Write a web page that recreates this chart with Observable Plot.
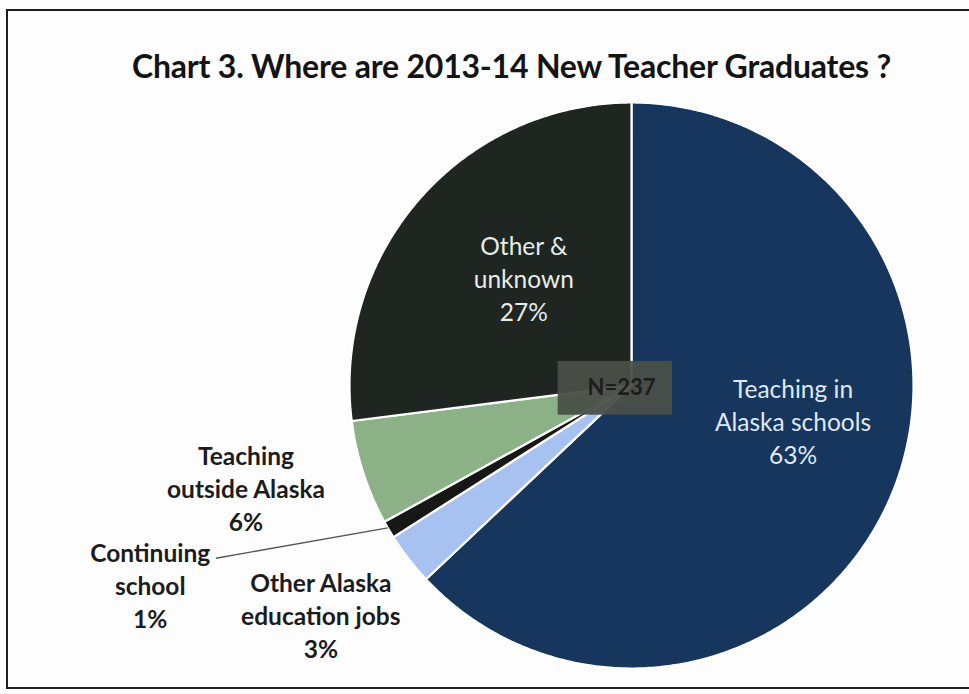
<!DOCTYPE html>
<html>
<head>
<meta charset="utf-8">
<script src="https://cdn.jsdelivr.net/npm/d3@7"></script>
<script src="https://cdn.jsdelivr.net/npm/@observablehq/plot@0.6"></script>
<style>
  body { margin: 0; background: #ffffff; }
  #wrap { position: relative; width: 969px; height: 694px; overflow: hidden; background: #fdfdfd; }
  #frame { position: absolute; left: 6px; top: 9px; width: 990px; height: 680px; border: 2px solid #1e1e1e; box-sizing: border-box; }
  #title { position: absolute; left: 0; top: 50px; width: 1023px; text-align: center; line-height: 32px;
           font-family: Lato, "Open Sans", sans-serif; font-weight: bold; font-size: 32px; color: #141414; letter-spacing: -0.2px; }
  #chart { position: absolute; left: 0; top: 0; }
</style>
</head>
<body>
<div id="wrap">
  <div id="frame"></div>
  <div id="chart"></div>
  <div id="title">Chart 3. Where are 2013-14 New Teacher Graduates ?</div>
</div>
<script>
// ---- data ----
const categories = ["Teaching in Alaska schools", "Other Alaska education jobs", "Continuing school", "Teaching outside Alaska", "Other & unknown"];
const percents = [63, 3, 1, 6, 27];
const labelTexts = ["Teaching in\nAlaska schools", "Other Alaska\neducation jobs", "Continuing\nschool", "Teaching\noutside Alaska", "Other &\nunknown"];
const totalN = 237;

// ---- styles / layout (not data) ----
const colors = ["#17365d", "#a7c1f1", "#161816", "#8cb187", "#1f2520"];
const labelColors = ["#dfe8f4", "#1c1c1c", "#1c1c1c", "#1c1c1c", "#e6ece6"];
const labelBold = [false, true, true, true, false];
const labelRadius = [0.586, 1.367, 1.846, 1.414, 0.54];      // in pie radii
const labelAngleNudge = [-11.2, 1.5, 8.2, 3.2, 3.6];          // degrees from slice mid-angle

// ---- geometry from data ----
const arcs = d3.pie().sort(null).value(d => d)(percents);
const toXY = (a, r) => ({x: r * Math.sin(a), y: r * Math.cos(a)});

const slices = arcs.map((arc, i) => {
  const pts = [{x: 0, y: 0}];
  const n = Math.max(2, Math.ceil((arc.endAngle - arc.startAngle) / 0.01));
  for (let k = 0; k <= n; k++) {
    const a = arc.startAngle + (arc.endAngle - arc.startAngle) * k / n;
    pts.push(toXY(a, 1));
  }
  return {pts, color: colors[i]};
});

const labels = arcs.map((arc, i) => {
  const mid = (arc.startAngle + arc.endAngle) / 2 + labelAngleNudge[i] * Math.PI / 180;
  const p = toXY(mid, labelRadius[i]);
  return {...p, text: labelTexts[i] + "\n" + percents[i] + "%", color: labelColors[i], bold: labelBold[i]};
});

// leader line for "Continuing school"
const cs = arcs[2];
const csMid = (cs.startAngle + cs.endAngle) / 2;
const leaderStart = toXY(csMid + 0.4 * Math.PI / 180, 1.0);
const leaderEnd = toXY(csMid + 8.1 * Math.PI / 180, 1.595);
const leader = [{x1: leaderStart.x, y1: leaderStart.y, x2: leaderEnd.x, y2: leaderEnd.y}];

// N box (layout, in pie radii around centre)
const nBox = [{x1: -0.26, x2: 0.145, y1: 0.085, y2: -0.105}];

const font = "Lato, 'Open Sans', sans-serif";
const marks = [];
slices.forEach(s => {
  marks.push(Plot.line(s.pts, {x: "x", y: "y", fill: s.color, stroke: "#ffffff", strokeWidth: 2.2, strokeLinejoin: "round", curve: "linear-closed"}));
});
marks.push(Plot.rect(nBox, {x1: "x1", x2: "x2", y1: "y1", y2: "y2", fill: "#4a4f47", fillOpacity: 0.95}));
marks.push(Plot.text([{x: 0, y: 0, t: "N=" + totalN}], {x: "x", y: "y", text: "t", dx: -10, dy: 2, fill: "#1b1e1b", fontSize: 22, fontWeight: "bold", fontFamily: font}));
marks.push(Plot.link(leader, {x1: "x1", y1: "y1", x2: "x2", y2: "y2", stroke: "#555", strokeWidth: 1.3}));
marks.push(Plot.text(labels.filter(d => !d.bold), {x: "x", y: "y", text: "text", fill: d => d.color, fontWeight: "normal", fontSize: 24.5, lineHeight: 1.35, fontFamily: font}));
marks.push(Plot.text(labels.filter(d => d.bold), {x: "x", y: "y", text: "text", fill: d => d.color, fontWeight: "bold", fontSize: 24.5, lineHeight: 1.34, fontFamily: font}));

const chart = Plot.plot({
  width: 969,
  height: 694,
  marginLeft: 349,
  marginRight: 56,
  marginTop: 102,
  marginBottom: 26,
  x: {domain: [-1, 1], axis: null},
  y: {domain: [-1, 1], axis: null},
  color: {type: "identity"},
  style: {background: "transparent", overflow: "visible"},
  marks
});
document.getElementById("chart").appendChild(chart);
</script>
</body>
</html>
